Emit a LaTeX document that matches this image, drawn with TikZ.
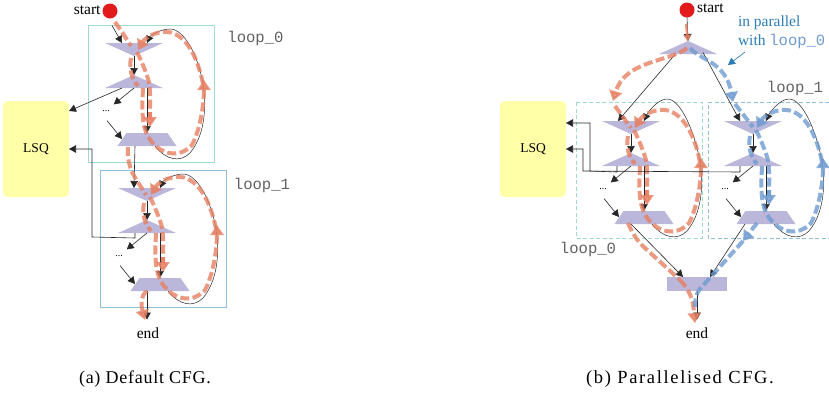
\documentclass[tikz,border=0pt]{standalone}
\usepackage{fontspec}
\setmainfont{Liberation Serif}
\setmonofont{Liberation Mono}
\newfontfamily\capfont[LetterSpace=4]{Liberation Serif}
\newfontfamily\capfontb[LetterSpace=9]{Liberation Serif}
\usetikzlibrary{arrows.meta,calc}
\definecolor{nodeC}{HTML}{BBB7DA}
\definecolor{oC}{HTML}{E67F62}
\definecolor{bC}{HTML}{6F9BCF}
\definecolor{tealC}{HTML}{9EDBCD}
\definecolor{skyC}{HTML}{8FBFDC}
\definecolor{lsqC}{HTML}{FFFFA8}
\definecolor{txtB}{HTML}{2B7DB8}
\definecolor{redC}{HTML}{E31A1C}
\tikzset{
  x=1pt,y=-1pt,
  base/.style={inner sep=0pt,outer sep=0pt},
  invtri/.style={base,minimum width=58pt,minimum height=13pt,path picture={
    \fill[nodeC] (path picture bounding box.north west)--(path picture bounding box.north east)--(path picture bounding box.south)--cycle;}},
  tri/.style={base,minimum width=58pt,minimum height=13pt,path picture={
    \fill[nodeC] (path picture bounding box.south west)--(path picture bounding box.south east)--(path picture bounding box.north)--cycle;}},
  trap/.style={base,minimum width=59pt,minimum height=13pt,path picture={
    \fill[nodeC] (path picture bounding box.south west)--(path picture bounding box.south east)--([xshift=-9pt]path picture bounding box.north east)--([xshift=9pt]path picture bounding box.north west)--cycle;}},
  endrect/.style={base,minimum width=60pt,minimum height=14pt,fill=nodeC},
  lsq/.style={base,minimum width=66pt,minimum height=96pt,fill=lsqC,rounded corners=5pt,font=\fontsize{13.5}{14}\selectfont},
  dotsn/.style={base,font=\fontsize{10}{11}\selectfont},
  lab/.style={base,font=\fontsize{15.5}{16}\selectfont},
  captxt/.style={base,font=\fontsize{18}{19}\capfont},
  captxtb/.style={base,font=\fontsize{18.5}{19}\capfontb},
  mono/.style={base,font=\fontsize{15.6}{16}\ttfamily\selectfont,text=black!62},
  startdot/.style={base,circle,fill=redC,minimum size=15pt},
  blk/.style={draw=black!85,line width=.6pt,-{Triangle[length=7pt,width=7.5pt]}},
  flow/.style={line width=4pt,dash pattern=on 9pt off 3.5pt,opacity=.8},
  flowhead/.style={-{Triangle[length=10pt,width=13pt]}},
}
% #1 prefix, #2 #3 shift, #4 flow colour, #5 top of the back curve
\newcommand{\loopgroup}[5]{%
\begin{scope}[shift={(#2,#3)}]
  \node[invtri] (#1a) at (134,49.5) {};
  \node[tri]    (#1b) at (134,81.5) {};
  \node[trap]   (#1c) at (147,139.5) {};
  \node[dotsn]  (#1d) at (106,111) {...};
  \draw[blk] (#1a.south) -- (#1b.north);
  \draw[blk] (#1b.south) -- ([yshift=6pt,xshift=4pt]#1d.north east);
  \draw[blk] ([xshift=1pt,yshift=-9pt]#1d.south) -- ([xshift=-25pt,yshift=-6pt]#1c.north);
  \draw[blk] ([xshift=13pt]#1b.south) -- (#1c.north);
  \draw[blk,line width=.5pt] ([xshift=8pt]#1c.south) .. controls (166,160) and (180,163) .. (190,153)
     .. controls (204,136) and (207,110) .. (203,84)
     .. controls (198,55) and (184,#5) .. (170,#5)
     .. controls (160,#5) and (150,36) .. ([xshift=13pt]#1a.north);
  \draw[flow,draw=#4] (137,52) .. controls (142,62) and (146,72) .. (149,82) .. controls (151,95) and (150,110) .. (150,118);
  \draw[flow,draw=#4,flowhead] (150,112) -- (150,127);
  \draw[flow,draw=#4] (131,58) .. controls (129,68) and (131,78) .. (138,86);
  \draw[flow,draw=#4,flowhead] (143,88) .. controls (142,110) and (141,128) .. (151,141)
     .. controls (160,153) and (178,160) .. (192,145)
     .. controls (200,130) and (204,105) .. (204,80);
  \draw[flow,draw=#4,flowhead] (203,84) .. controls (198,58) and (186,34) .. (168,32)
     .. controls (155,31) and (145,38) .. (138,50);
\end{scope}}
\begin{document}
\begin{tikzpicture}
\useasboundingbox (0,0) rectangle (829,397);
% ---- frames
\draw[tealC,line width=1pt] (88,25) rectangle (214,162);
\draw[skyC,line width=1pt] (100,170) rectangle (226,307);
\draw[tealC,line width=1pt,dash pattern=on 4pt off 2.5pt] (576,102) rectangle (702,238);
\draw[skyC,line width=1pt,dash pattern=on 4pt off 2.5pt] (829,102) -- (708,102) -- (708,238) -- (829,238);
% ---- LSQ
\node[lsq] (lsqa) at (36,149) {LSQ};
\node[lsq] (lsqb) at (533,149) {LSQ};
% ---- labels
\node[startdot] (starta) at (110,11) {};
\node[lab,anchor=east] (starttxta) at (100.5,10) {start};
\node[startdot] (startb) at (687,10) {};
\node[lab,anchor=west] (starttxtb) at (697,8.5) {start};
\node[lab] (enda) at (148,333) {end};
\node[lab] (endb) at (697,333) {end};
\node[mono] (la) at (255.5,38) {loop\_0};
\node[mono] (lb) at (262,185) {loop\_1};
\node[mono] (lc) at (795,88) {loop\_1};
\node[mono] (ld) at (588,249) {loop\_0};
\node[lab,text=txtB,anchor=west] (para) at (738,23) {in parallel};
\node[lab,text=txtB,anchor=west] (parb) at (738,41) {with \textcolor{bC}{\ttfamily loop\_0}};
\node[captxt] (capa) at (145,379) {(a) Default CFG.};
\node[captxtb] (capb) at (680,379) {(b) Parallelised CFG.};
% ---- loops
\loopgroup{p}{0}{0}{oC}{29}
\loopgroup{q}{13}{145}{oC}{29}
\loopgroup{r}{497}{78}{oC}{21}
\loopgroup{s}{619}{78}{bC}{21}
\node[tri] (top) at (688,47.5) {};
\node[endrect] (merge) at (697,284) {};
% ---- black connectors, left graph
\draw[blk] ([xshift=2pt,yshift=-7pt]starta.south) -- ([xshift=-12pt]pa.north);
\draw[blk] ([xshift=-12pt]pb.south) -- ([yshift=38pt]lsqa.east);
\draw[blk] ([xshift=-12pt]pc.south) -- ([xshift=-13pt]qa.north);
\draw[blk] ([xshift=-12pt]qb.south) -- ++(0,5) -- (92,237) -- (92,149) -- (lsqa.east);
\draw[blk] ([xshift=-13pt]qc.south) -- ([xshift=-1pt,yshift=8pt]enda.north);
% ---- black connectors, right graph
\draw[blk] (startb.south) -- (top.north);
\draw[blk] ([xshift=-13pt,yshift=-7pt]top.center) -- ([xshift=-13pt]ra.north);
\draw[blk] ([xshift=15pt,yshift=-5pt]top.center) -- ([xshift=-13pt]sa.north);
\draw[blk] ([xshift=-14pt]rb.south) -- ++(0,6) -- (590,171) -- (590,123) -- ([yshift=26pt]lsqb.east);
\draw[blk] ([xshift=-13pt]sb.south) -- ++(0,6) -- (583,171) -- (583,149) -- (lsqb.east);
\draw[blk] ([xshift=-13pt]rc.south) -- ([xshift=-14pt]merge.north);
\draw[blk] ([xshift=-21pt]sc.south) -- ([xshift=13pt]merge.north);
\draw[blk] (merge.south) -- ([yshift=8pt]endb.north);
% ---- flows, left graph
\draw[flow,draw=oC] (115,22) -- (122,32) -- (131,46);
\draw[flow,draw=oC] (128,147) .. controls (127,155) and (129,165) .. (132,172) .. controls (136,180) and (142,188) .. (146,195);
\draw[flow,draw=oC,flowhead] (147,291) .. controls (140,296) and (141,305) .. (145,320);
% ---- flows, right graph
\draw[flow,draw=oC,line width=2.5pt,solid,-{Triangle[length=6pt,width=8pt]}] (686,24) -- (top.north);
\draw[flow,draw=oC,flowhead] (687,48) .. controls (670,62) and (625,60) .. (613,101);
\draw[flow,draw=oC] (615,106) -- (631,128);
\draw[flow,draw=bC,flowhead] (690,48) .. controls (700,60) and (726,62) .. (733,102);
\draw[flow,draw=bC] (735,104) -- (753,127);
\draw[flow,draw=oC] (628,223) .. controls (632,232) and (636,240) .. (645,248) -- (680,280);
\draw[flow,draw=oC,flowhead] (680,280) .. controls (690,290) and (693,300) .. (695,323);
\draw[flow,draw=bC,flowhead] (757,223) -- (743,241);
\draw[flow,draw=bC] (743,241) -- (699,290) .. controls (696,295) and (695,300) .. (695,307);
% ---- note arrow
\coordinate (notefrom) at (745,52);
\coordinate (noteto) at (728,65);
\draw[blk,draw=txtB,fill=txtB] (notefrom) -- (noteto);
\end{tikzpicture}
\end{document}
